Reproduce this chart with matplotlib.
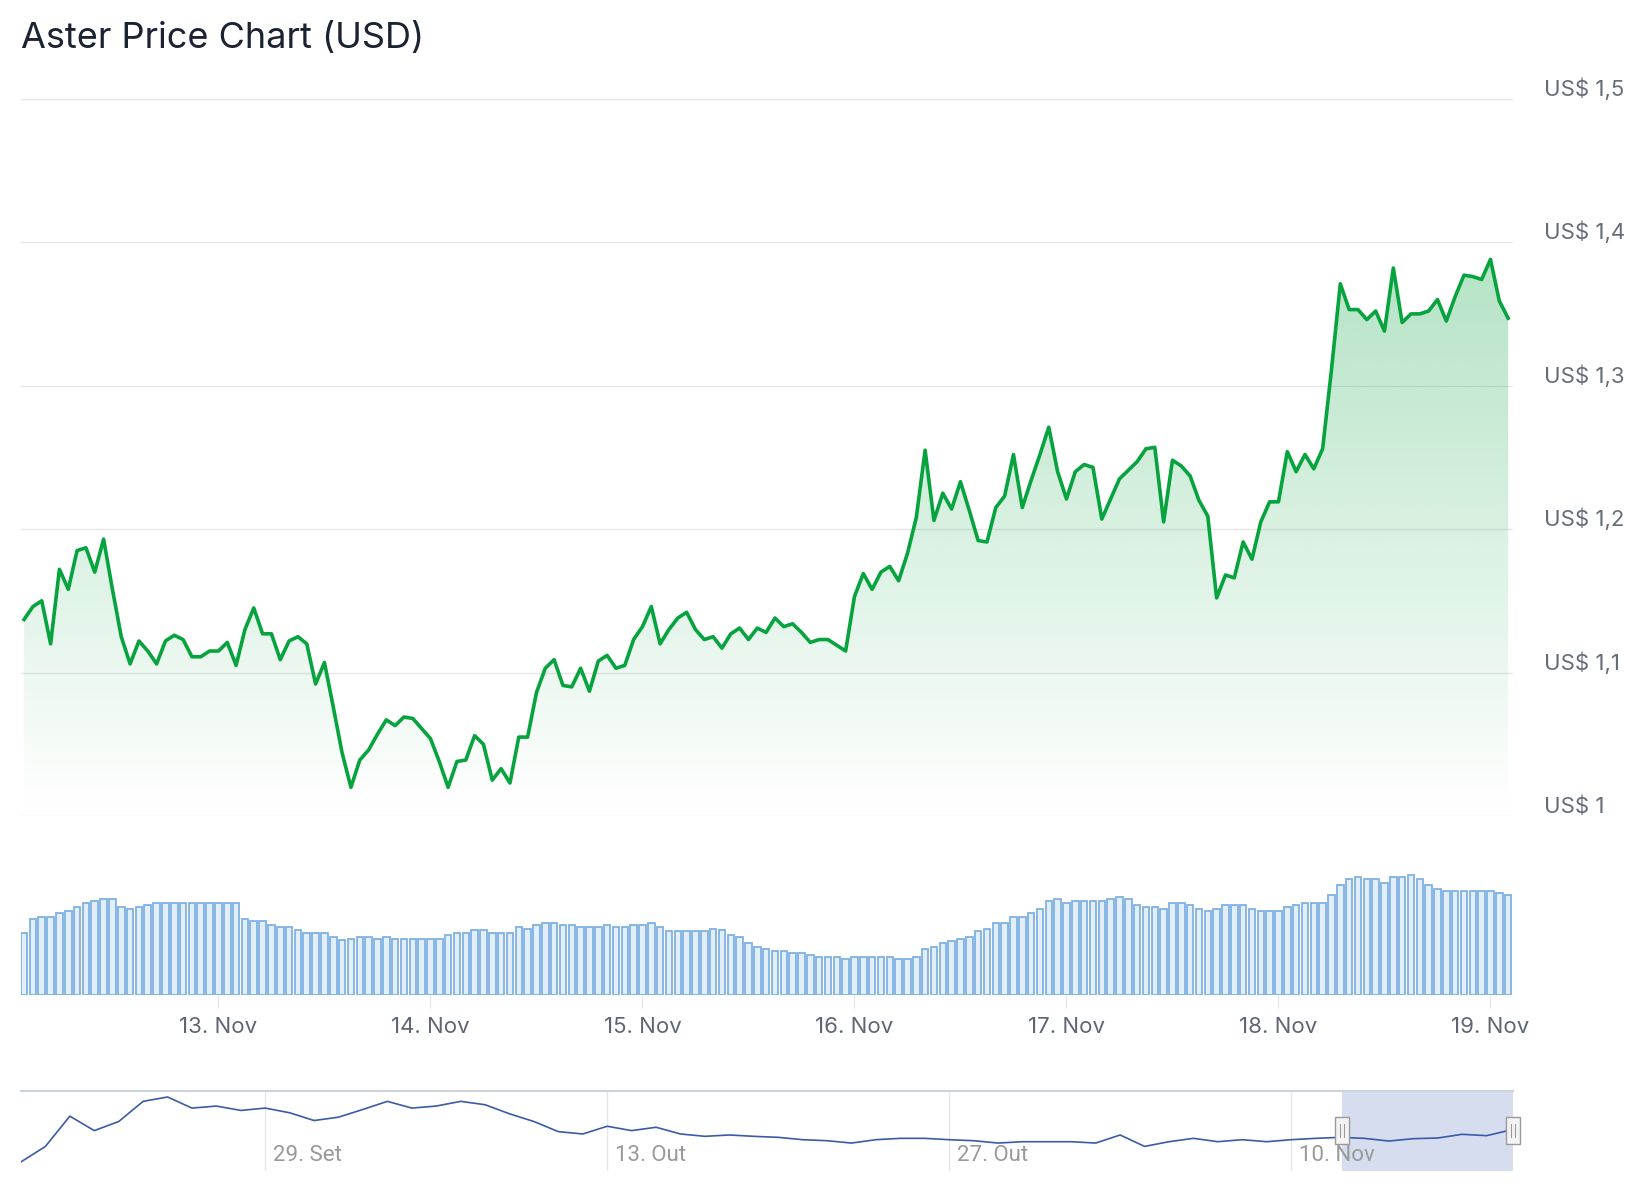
import datetime as dt

import numpy as np
import matplotlib
matplotlib.use("Agg")
import matplotlib.pyplot as plt
import matplotlib.dates as mdates
import matplotlib.transforms as mtransforms
from matplotlib.patches import Rectangle
from matplotlib.colors import to_rgb

plt.rcParams["font.family"] = ["Inter", "DejaVu Sans"]

TITLE = "Aster Price Chart (USD)"

# hourly data, 12 Nov 02:00 -> 19 Nov 02:00
start = dt.datetime(2025, 11, 12, 2)
price = [
    1.137, 1.146, 1.150, 1.120, 1.172, 1.158, 1.185, 1.187, 1.170, 1.193,
    1.158, 1.125, 1.106, 1.122, 1.115, 1.106, 1.122, 1.126, 1.123, 1.111,
    1.111, 1.115, 1.115, 1.121, 1.105, 1.130, 1.145, 1.127, 1.127, 1.109,
    1.122, 1.125, 1.120, 1.092, 1.107, 1.076, 1.044, 1.020, 1.039, 1.046,
    1.057, 1.067, 1.063, 1.069, 1.068, 1.061, 1.054, 1.038, 1.020, 1.038,
    1.039, 1.056, 1.050, 1.025, 1.033, 1.023, 1.055, 1.055, 1.086, 1.103,
    1.109, 1.091, 1.090, 1.103, 1.087, 1.108, 1.112, 1.103, 1.105, 1.123,
    1.132, 1.146, 1.120, 1.130, 1.138, 1.142, 1.130, 1.123, 1.125, 1.117,
    1.127, 1.131, 1.123, 1.131, 1.128, 1.138, 1.132, 1.134, 1.128, 1.121,
    1.123, 1.123, 1.119, 1.115, 1.153, 1.169, 1.158, 1.170, 1.174, 1.164,
    1.183, 1.208, 1.255, 1.206, 1.225, 1.214, 1.233, 1.213, 1.192, 1.191,
    1.215, 1.223, 1.252, 1.215, 1.234, 1.252, 1.271, 1.240, 1.221, 1.240,
    1.245, 1.243, 1.207, 1.221, 1.235, 1.241, 1.247, 1.256, 1.257, 1.205,
    1.248, 1.244, 1.237, 1.220, 1.209, 1.152, 1.168, 1.166, 1.191, 1.179,
    1.205, 1.219, 1.219, 1.254, 1.240, 1.252, 1.242, 1.256, 1.311, 1.371,
    1.353, 1.353, 1.346, 1.352, 1.338, 1.382, 1.344, 1.350, 1.350, 1.352,
    1.360, 1.345, 1.362, 1.377, 1.376, 1.374, 1.388, 1.359, 1.347,
]
# relative volume (no scale shown on the chart)
volume = [
    62, 76, 78, 78, 82, 84, 88, 92, 94, 96, 96, 88, 86, 88, 90, 92, 92, 92, 92, 92,
    92, 92, 92, 92, 92, 76, 74, 74, 70, 68, 68, 65, 62, 62, 62, 58, 55, 56, 58, 58,
    56, 58, 56, 56, 56, 56, 56, 56, 60, 62, 62, 65, 65, 62, 62, 62, 68, 66, 70, 72,
    72, 70, 70, 68, 68, 68, 70, 68, 68, 70, 70, 72, 68, 64, 64, 64, 64, 64, 66, 65,
    60, 58, 52, 48, 46, 44, 44, 42, 42, 40, 38, 38, 38, 36, 38, 38, 38, 38, 38, 36,
    36, 38, 46, 48, 52, 54, 56, 58, 64, 66, 72, 72, 78, 78, 82, 86, 94, 96, 92, 94,
    94, 94, 94, 96, 98, 96, 90, 88, 88, 86, 92, 92, 90, 86, 84, 86, 90, 90, 90, 86,
    84, 84, 84, 88, 90, 92, 92, 92, 100, 110, 116, 118, 116, 116, 112, 118, 118, 120, 116, 110,
    106, 104, 104, 104, 104, 104, 104, 102, 100,
]

# navigator: daily closes from 19 Sep
nav_start = dt.datetime(2025, 9, 19)
nav_price = [
    0.42, 0.88, 1.78, 1.35, 1.62, 2.22, 2.35, 2.02, 2.08, 1.95,
    2.02, 1.88, 1.65, 1.75, 1.98, 2.22, 2.02, 2.08, 2.22, 2.12,
    1.85, 1.62, 1.32, 1.25, 1.48, 1.35, 1.45, 1.25, 1.18, 1.22,
    1.18, 1.15, 1.08, 1.05, 0.98, 1.08, 1.12, 1.12, 1.08, 1.05,
    0.98, 1.02, 1.02, 1.02, 0.98, 1.22, 0.88, 1.02, 1.12, 1.02,
    1.08, 1.02, 1.08, 1.12, 1.15, 1.12, 1.04, 1.11, 1.13, 1.24,
    1.20, 1.37,
]

price_ticks = [1.0, 1.1, 1.2, 1.3, 1.4, 1.5]
day_ticks = [dt.datetime(2025, 11, d) for d in range(13, 20)]
day_labels = ["13. Nov", "14. Nov", "15. Nov", "16. Nov", "17. Nov", "18. Nov", "19. Nov"]
nav_ticks = [dt.datetime(2025, 9, 29), dt.datetime(2025, 10, 13),
             dt.datetime(2025, 10, 27), dt.datetime(2025, 11, 10)]
nav_labels = ["29. Set", "13. Out", "27. Out", "10. Nov"]

GREEN = "#07a33e"
GRID = "#e6e6e6"

times = [start + dt.timedelta(hours=i) for i in range(len(price))]
xs = mdates.date2num(times)
nav_times = [nav_start + dt.timedelta(days=i) for i in range(len(nav_price))]
nav_x = np.append(mdates.date2num(nav_times), xs[-1])
nav_y = nav_price + [price[-1]]

W, H = 1644, 1200
fig = plt.figure(figsize=(W / 100, H / 100), dpi=100)


def box(x0, y0, x1, y1):
    # pixel box (top-left origin) -> figure fraction
    return [x0 / W, 1 - y1 / H, (x1 - x0) / W, (y1 - y0) / H]


ax = fig.add_axes(box(21, 98.7, 1513, 816))
axv = fig.add_axes(box(21, 835, 1513, 995))
axn = fig.add_axes(box(21, 1091, 1513, 1171))

fig.text(21 / W, 1 - 48 / H, TITLE, fontsize=26, color="#1b2232", va="baseline")

hour = 1 / 24
xlim = (xs[0] - 0.35 * hour, xs[-1] + 0.55 * hour)

# ---- price panel
ax.plot(xs, price, color=GREEN, lw=2.6, zorder=3, solid_joinstyle="round")
poly = ax.fill_between(xs, price, 1.0, facecolor="none", edgecolor="none")
top = max(price)
g = np.linspace(0, 1, 256)
rgba = np.zeros((256, 1, 4))
rgba[:, 0, :3] = to_rgb(GREEN)
rgba[:, 0, 3] = 0.30 * g
im = ax.imshow(rgba, extent=[xs[0], xs[-1], 1.0, top], origin="lower",
               aspect="auto", zorder=2, interpolation="bilinear")
im.set_clip_path(poly.get_paths()[0], transform=ax.transData)

ax.set_xlim(*xlim)
ax.set_ylim(1.0, 1.5)
ax.set_yticks(price_ticks)
ax.set_xticks([])
ax.grid(axis="y", color=GRID, lw=1)
ax.tick_params(left=False, labelleft=False)
for s in ax.spines.values():
    s.set_visible(False)

lab_tr = mtransforms.offset_copy(ax.get_yaxis_transform(), fig=fig, x=31, y=3, units="dots")
for v in price_ticks:
    txt = f"US$ {v:g}".replace(".", ",")
    ax.text(1.0, v, txt, transform=lab_tr, fontsize=16, color="#666d7a",
            ha="left", va="baseline", clip_on=False)

# ---- volume panel
axv.bar(xs, volume, width=0.74 * hour, facecolor="#e2effb", edgecolor="#7fb1e3",
        lw=1.3, zorder=2)
axv.set_xlim(*xlim)
axv.set_ylim(0, 160)
axv.set_yticks([])
axv.set_xticks(mdates.date2num(day_ticks))
axv.set_xticklabels(day_labels)
axv.tick_params(axis="x", length=9.5, width=1, color=GRID, labelsize=16,
                labelcolor="#5f6673", pad=6)
for s in axv.spines.values():
    s.set_visible(False)

# ---- navigator
nav_lim = (mdates.date2num(nav_start), xs[-1])
axn.plot(nav_x, nav_y, color="#3a5ba8", lw=1.2, zorder=3)
axn.axvspan(xs[0], xs[-1], color="#d5ddef", lw=0, zorder=1)
for t in nav_ticks:
    axn.axvline(mdates.date2num(t), color=GRID, lw=1, zorder=0)
nav_tr = mtransforms.offset_copy(axn.get_xaxis_transform(), fig=fig, x=8, y=10, units="dots")
for t, lab in zip(nav_ticks, nav_labels):
    axn.text(mdates.date2num(t), 0, lab, transform=nav_tr, fontsize=16,
             color="#999999", ha="left", va="baseline", family=["Roboto", "DejaVu Sans"],
             zorder=4)
axn.set_xlim(*nav_lim)
axn.set_ylim(0.149, 2.528)
axn.set_xticks([])
axn.set_yticks([])
for k, s in axn.spines.items():
    s.set_visible(k == "top")
axn.spines["top"].set_color("#cdd1da")
axn.spines["top"].set_linewidth(1.5)

# selection handles
span = nav_lim[1] - nav_lim[0]
hw = span * 7 / 1492
tr = axn.get_xaxis_transform()
for xc in (xs[0], xs[-1]):
    axn.add_patch(Rectangle((xc - hw, 0.34), 2 * hw, 0.33, transform=tr,
                            facecolor="#f4f4f4", edgecolor="#9a9a9a", lw=1,
                            zorder=5, clip_on=False))
    for dx in (-0.35, 0.35):
        axn.plot([xc + dx * hw] * 2, [0.42, 0.59], transform=tr, color="#9a9a9a",
                 lw=0.8, zorder=6, clip_on=False)

fig.savefig("out.png", dpi=100)
